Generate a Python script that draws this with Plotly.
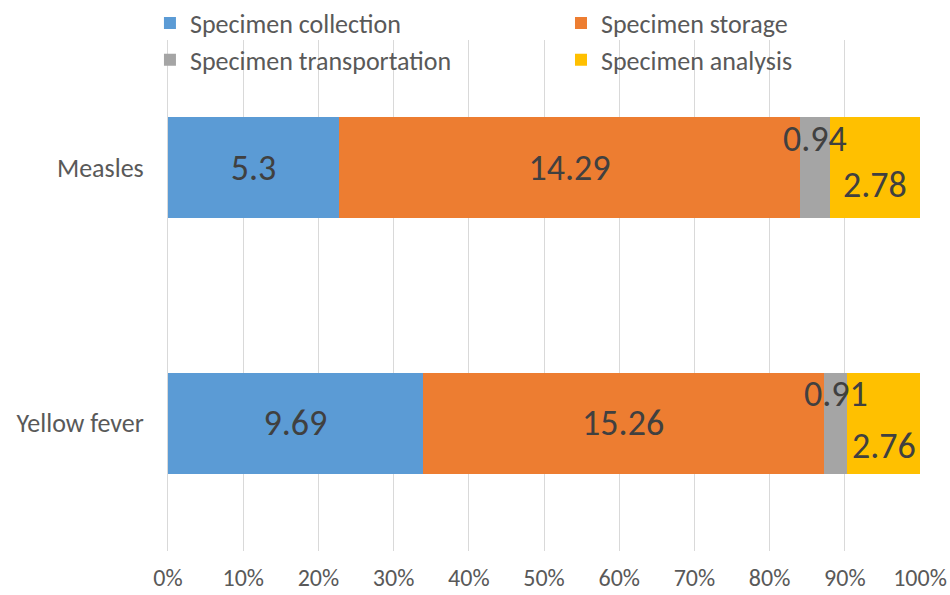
import plotly.graph_objects as go

# Stages of specimen handling and the share of issues reported per disease
diseases = ["Measles", "Yellow fever"]
stages = ["Specimen collection", "Specimen storage",
          "Specimen transportation", "Specimen analysis"]
collection = [5.3, 9.69]
storage = [14.29, 15.26]
transportation = [0.94, 0.91]
analysis = [2.78, 2.76]
x_ticks = [0, 10, 20, 30, 40, 50, 60, 70, 80, 90, 100]
x_tick_labels = [f"{t}%" for t in x_ticks]

colors = ["#5B9BD5", "#ED7D31", "#A5A5A5", "#FFC000"]
series = [collection, storage, transportation, analysis]
# left legend column: collection / transportation; right: storage / analysis
legend_ids = ["legend", "legend2", "legend", "legend2"]
FONT = "Carlito, Calibri, Lato, sans-serif"

fig = go.Figure()
for i, (name, vals, col) in enumerate(zip(stages, series, colors)):
    show_text = i < 2
    fig.add_trace(go.Bar(
        name=name, y=diseases, x=vals, orientation="h",
        marker=dict(color=col, line=dict(width=0)),
        text=[f"{v:g}" for v in vals] if show_text else None,
        textposition="inside" if show_text else "none",
        insidetextanchor="middle", textangle=0,
        constraintext="none",
        textfont=dict(family=FONT, size=36, color="#404040"),
        legend=legend_ids[i],
        hoverinfo="skip",
    ))

# Labels of the narrow segments, placed at each segment's centre (in percent);
# the transportation label sits above the bar centre, the analysis one below.
label_shift = {"Measles": (29, -17), "Yellow fever": (29, -23)}
annotations = []
for d_i, disease in enumerate(diseases):
    total = sum(s[d_i] for s in series)
    start = (collection[d_i] + storage[d_i]) / total * 100
    mid_t = start + transportation[d_i] / total * 50
    start_a = start + transportation[d_i] / total * 100
    mid_a = start_a + analysis[d_i] / total * 50
    up, down = label_shift[disease]
    for xv, val, shift in ((mid_t, transportation[d_i], up),
                           (mid_a, analysis[d_i], down)):
        annotations.append(dict(
            x=xv, y=disease, xref="x", yref="y", text=f"{val:g}",
            showarrow=False, yshift=shift,
            font=dict(family=FONT, size=36, color="#404040"),
        ))

legend_style = dict(
    orientation="v", xanchor="left", y=1.079, yanchor="top",
    font=dict(family=FONT, size=26, color="#595959"),
    bgcolor="rgba(0,0,0,0)", traceorder="normal",
)

fig.update_layout(
    barmode="stack", barnorm="percent", bargap=0.605,
    width=950, height=595,
    margin=dict(l=168, r=30, t=40, b=44, autoexpand=False),
    paper_bgcolor="white", plot_bgcolor="white",
    font=dict(family=FONT, color="#595959"),
    legend=dict(x=-0.024, **legend_style),
    legend2=dict(x=0.5226, **legend_style),
    annotations=annotations,
    xaxis=dict(
        range=[0, 100], tickvals=x_ticks, ticktext=x_tick_labels,
        showgrid=True, gridcolor="#D9D9D9", gridwidth=1,
        zeroline=False, showline=False, ticks="",
        ticklabelstandoff=10, automargin=False,
        tickfont=dict(family=FONT, size=24, color="#595959"),
    ),
    yaxis=dict(
        categoryorder="array", categoryarray=diseases, autorange="reversed",
        showgrid=False, zeroline=False, showline=True,
        linecolor="#D9D9D9", linewidth=1, ticks="",
        ticklabelstandoff=18, automargin=False,
        tickfont=dict(family=FONT, size=26, color="#595959"),
    ),
)

fig.write_html("out.html")
